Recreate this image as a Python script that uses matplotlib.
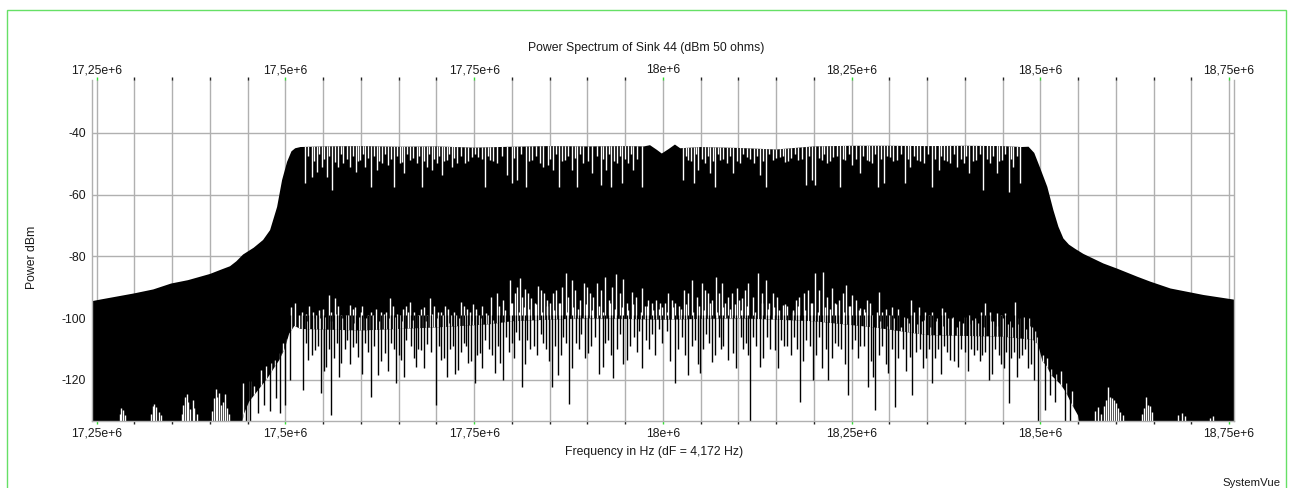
import numpy as np
import matplotlib
matplotlib.use('Agg')
import matplotlib.pyplot as plt
from matplotlib.ticker import MultipleLocator, FuncFormatter
from matplotlib.patches import Rectangle

plt.rcParams['font.family'] = ['Liberation Sans', 'DejaVu Sans']
plt.rcParams['axes.unicode_minus'] = False

###===========================================================
# spectrum of sink 44, frequencies in MHz, levels in dBm

# upper edge of the spectrum
upper_mhz = [17.2438, 17.2544, 17.2994, 17.3250, 17.3485, 17.3710, 17.4000, 17.4147,
             17.4266, 17.4350, 17.4439, 17.4580, 17.4704, 17.4797, 17.4890, 17.4956,
             17.5022, 17.5080, 17.5130, 17.5200, 17.5500, 17.6000, 17.6500, 17.7000,
             17.7500, 17.8000, 17.8500, 17.9000, 17.9500, 17.9750, 17.9830, 17.9920,
             17.9986, 18.0080, 18.0160, 18.0230, 18.0500, 18.1000, 18.1500, 18.2000,
             18.2500, 18.3000, 18.3500, 18.4000, 18.4500, 18.4750, 18.4844, 18.4920,
             18.5000, 18.5093, 18.5173, 18.5240, 18.5306, 18.5380, 18.5465, 18.5571,
             18.5836, 18.6022, 18.6287, 18.6460, 18.6725, 18.7162, 18.7566]
upper_dbm = [-94.5, -94.0, -92.0, -90.7, -88.8, -87.7, -85.7, -84.3,
             -83.2, -81.6, -79.4, -77.2, -74.7, -71.5, -64.0, -55.3,
             -49.4, -46.0, -45.0, -44.6, -44.4, -44.3, -44.5, -44.4,
             -44.8, -44.5, -44.3, -44.4, -44.3, -44.4, -44.0, -45.5,
             -46.7, -45.2, -43.8, -45.0, -44.6, -44.9, -45.4, -44.4,
             -44.2, -44.2, -44.3, -44.2, -44.3, -44.6, -44.5, -46.5,
             -51.5, -57.5, -65.0, -70.4, -74.2, -76.2, -77.6, -79.2,
             -82.3, -84.0, -86.6, -88.2, -90.4, -92.5, -94.0]

# lower edge of the solid part (below the plot floor where it runs off the axis)
floor_mhz = [17.2438, 17.4380, 17.4450, 17.4520, 17.4600, 17.4680, 17.4760, 17.4840,
             17.4920, 17.4990, 17.5050, 17.5120, 17.5200, 17.6000, 17.7000, 17.7700,
             17.8000, 17.9000, 18.0000, 18.1000, 18.2000, 18.2800, 18.3500, 18.4500,
             18.4900, 18.4970, 18.5030, 18.5085, 18.5145, 18.5210, 18.5270, 18.5340,
             18.5420, 18.5500, 18.5560, 18.7566]
floor_dbm = [-140.0, -140.0, -131.0, -127.0, -124.5, -122.0, -119.5, -116.5,
             -113.5, -110.0, -105.0, -102.5, -103.5, -104.0, -103.0, -102.0,
             -101.0, -100.0, -100.5, -100.0, -101.0, -103.0, -105.5, -106.0,
             -107.0, -108.5, -114.0, -115.5, -118.5, -120.0, -121.5, -124.0,
             -128.0, -131.5, -140.0, -140.0]

# deep nulls cutting down from the top of the band
notch_mhz = [17.5260, 17.5349, 17.5415, 17.5481, 17.5548, 17.5614, 17.5701, 17.5768, 17.5856, 17.5936,
             17.5989, 17.6055, 17.6131, 17.6210, 17.6276, 17.6364, 17.6439, 17.6519, 17.6572, 17.6651,
             17.6740, 17.6806, 17.6873, 17.6939, 17.7005, 17.7071, 17.7138, 17.7204, 17.7270, 17.7380,
             17.7469, 17.7556, 17.7645, 17.7711, 17.7800, 17.7933, 17.7999, 17.8065, 17.8188, 17.8264,
             17.8374, 17.8418, 17.8480,
             17.8550, 17.8630, 17.8705, 17.8794, 17.8868, 17.8948, 17.9067, 17.9178, 17.9248, 17.9315,
             17.9390, 17.9464, 17.9544, 17.9602, 17.9721, 18.0273, 18.0339, 18.0414, 18.0471, 18.0560,
             18.0626, 18.0692, 18.0759, 18.0848, 18.0935, 18.1024, 18.1113, 18.1210, 18.1289, 18.1368,
             18.1457, 18.1554, 18.1620, 18.1696, 18.1796, 18.1898, 18.1974, 18.2018, 18.2106, 18.2173,
             18.2260, 18.2349, 18.2415, 18.2510,
             18.2614, 18.2703, 18.2769, 18.2856, 18.2923, 18.3011, 18.3100, 18.3210, 18.3277, 18.3365,
             18.3453, 18.3564, 18.3652, 18.3718, 18.3807, 18.3903, 18.3983, 18.4062, 18.4151, 18.4240,
             18.4336, 18.4425, 18.4491, 18.4579, 18.4645, 18.4734]
notch_dbm = [-56.4, -54.2, -52.6, -51.0, -54.2, -58.5, -51.0, -49.9, -51.0, -52.6,
             -48.8, -51.0, -57.5, -52.1, -49.9, -50.5, -57.5, -49.9, -53.1, -48.8,
             -49.9, -57.5, -51.0, -52.1, -49.9, -53.7, -48.8, -51.0, -49.9, -49.9,
             -47.8, -47.8, -57.5, -48.8, -49.9, -53.7, -56.4, -55.3, -57.5, -48.8,
             -49.9, -51.0, -50.5,
             -52.1, -57.5, -48.8, -52.1, -57.5, -49.9, -53.1, -56.9, -52.1, -57.5,
             -49.9, -56.4, -49.9, -52.1, -57.5, -55.3, -48.8, -56.4, -52.1, -49.9,
             -53.1, -57.5, -48.8, -49.9, -53.1, -49.9, -47.8, -49.9, -53.7, -57.5,
             -48.8, -47.8, -49.4, -48.3, -48.8, -56.9, -55.3, -56.9, -48.8, -49.9,
             -47.8, -57.5, -48.8, -50.5,
             -53.1, -48.8, -49.9, -57.5, -56.4, -47.8, -48.8, -56.4, -51.0, -48.8,
             -49.9, -57.5, -52.1, -48.8, -49.9, -51.0, -49.9, -53.1, -48.8, -58.5,
             -49.9, -53.1, -48.8, -59.1, -51.0, -56.4]

# shallow nulls between them
ripple_mhz = [17.5305, 17.5382, 17.5448, 17.5515, 17.5581, 17.5658, 17.5735, 17.5812, 17.5896, 17.5962,
              17.6022, 17.6093, 17.6170, 17.6243, 17.6320, 17.6402, 17.6479, 17.6546, 17.6612, 17.6696,
              17.6773, 17.6840, 17.6906, 17.6972, 17.7038, 17.7105, 17.7171, 17.7237, 17.7325, 17.7425,
              17.7512, 17.7600, 17.7678, 17.7755, 17.7866, 17.8032, 17.8126, 17.8226, 17.8320, 17.8510,
              17.8590, 17.8668, 17.8750, 17.8831, 17.8908, 17.9008, 17.9122, 17.9213, 17.9282, 17.9352,
              17.9427, 17.9504, 17.9573, 17.9660, 18.0306, 18.0376, 18.0442, 18.0515, 18.0593, 18.0659,
              18.0725, 18.0803, 18.0891, 18.0980, 18.1068, 18.1160, 18.1250, 18.1328, 18.1412, 18.1505,
              18.1587, 18.1658, 18.1746, 18.1847, 18.1936, 18.2062, 18.2140, 18.2216, 18.2305, 18.2382,
              18.2462, 18.2562, 18.2658, 18.2736, 18.2812, 18.2890, 18.2967, 18.3055, 18.3155, 18.3243,
              18.3321, 18.3409, 18.3508, 18.3608, 18.3685, 18.3762, 18.3855, 18.3943, 18.4022, 18.4106,
              18.4195, 18.4288, 18.4380, 18.4458, 18.4535, 18.4612, 18.4690]
ripple_dbm = [-47.5, -49.0, -47.0, -48.5, -47.5, -49.5, -47.0, -48.5, -47.5, -49.0,
              -47.0, -48.0, -47.5, -49.0, -47.0, -48.5, -47.5, -49.5, -47.0, -48.0,
              -47.5, -49.0, -47.0, -48.5, -47.5, -49.0, -47.0, -48.0, -47.5, -49.0,
              -47.0, -48.5, -47.5, -49.0, -47.5, -48.0, -47.0, -49.0, -47.5, -48.5,
              -47.0, -49.0, -47.5, -48.0, -47.0, -49.0, -47.5, -48.5, -47.0, -49.0,
              -47.5, -48.5, -47.0, -48.5, -47.5, -49.0, -47.0, -48.5, -47.5, -49.0,
              -47.0, -48.5, -47.5, -49.0, -47.0, -48.5, -47.5, -49.0, -47.0, -48.0,
              -47.5, -49.0, -47.0, -48.5, -47.5, -48.0, -47.0, -49.0, -47.5, -48.5,
              -47.0, -48.5, -47.5, -49.0, -47.0, -48.5, -47.5, -49.0, -47.0, -48.5,
              -47.5, -49.0, -47.0, -48.5, -47.5, -49.0, -47.0, -48.5, -47.5, -49.0,
              -47.0, -48.5, -47.5, -49.0, -47.0, -48.5, -47.5]

# nulls reaching up from below into the band (tip level)
gap_mhz = [17.2810, 17.2828, 17.2850, 17.2870,
           17.3225, 17.3245, 17.3265, 17.3290, 17.3320, 17.3350,
           17.3625, 17.3650, 17.3670, 17.3690, 17.3715, 17.3740, 17.3770, 17.3795, 17.3825,
           17.4030, 17.4055, 17.4075, 17.4095, 17.4120, 17.4145, 17.4175, 17.4200, 17.4225, 17.4255,
           17.4440, 17.4527, 17.4580, 17.4680, 17.4747, 17.4806, 17.4859, 17.4925, 17.4969, 17.5022,
           17.5071, 17.5124, 17.5180, 17.5270, 17.5360, 17.5445, 17.5578, 17.5654, 17.5740, 17.5852,
           17.5919, 17.5980, 17.6051, 17.6140, 17.6271, 17.6390, 17.6480, 17.6560, 17.6647, 17.6750,
           17.6840, 17.6920, 17.7020, 17.7110, 17.7200, 17.7323, 17.7400, 17.7480, 17.7570, 17.7662,
           17.7720, 17.7976, 17.8040, 17.8108, 17.8180, 17.8260, 17.8340, 17.8420, 17.8500, 17.8580,
           17.8718, 17.8794, 17.8957, 17.9040, 17.9125, 17.9235, 17.9381, 17.9470, 17.9589, 17.9722,
           17.9800, 17.9907, 17.9986, 18.0074, 18.0160, 18.0282, 18.0392, 18.0516, 18.0600, 18.0706,
           18.0781, 18.0860, 18.0980, 18.1050, 18.1134, 18.1258, 18.1368, 18.1460, 18.1590, 18.1730,
           18.1810, 18.1929, 18.2018, 18.2128, 18.2239, 18.2330, 18.2428, 18.2510, 18.2614, 18.2700,
           18.2835, 18.2857, 18.2950, 18.3034, 18.3188, 18.3286, 18.3387, 18.3475, 18.3564, 18.3697,
           18.3780, 18.3850, 18.4005, 18.4094, 18.4180, 18.4270, 18.4337, 18.4425, 18.4535, 18.4600,
           18.4667, 18.4778, 18.4844, 18.4955, 18.5030, 18.5085, 18.5145, 18.5210, 18.5270, 18.5340,
           18.5420, 18.5720, 18.5770, 18.5800, 18.5840, 18.5870, 18.5895, 18.5920, 18.5950, 18.5975,
           18.6000, 18.6030, 18.6060, 18.6090, 18.6350, 18.6380, 18.6405, 18.6425, 18.6450, 18.6480,
           18.6828, 18.6881, 18.6920, 18.7252, 18.7292,
           17.5220, 17.5310, 17.5400, 17.5500, 17.5610, 17.5700, 17.5800, 17.5890, 17.6010, 17.6090,
           17.6200, 17.6330, 17.6430, 17.6520, 17.6600, 17.6700, 17.6790, 17.6880, 17.6970, 17.7060,
           17.7160, 17.7260, 17.7360, 17.7440, 17.7530, 17.7610, 17.7800, 17.7880, 17.8000, 17.8070,
           17.8140, 17.8220, 17.8300, 17.8380, 17.8460, 17.8540, 17.8620, 17.8670, 17.8750, 17.8840,
           17.8900, 17.9000, 17.9080, 17.9180, 17.9290, 17.9330, 17.9430, 17.9520, 17.9650, 17.9760,
           17.9850, 17.9950, 18.0030, 18.0120, 18.0220, 18.0330, 18.0450, 18.0560, 18.0650, 18.0740,
           18.0820, 18.0920, 18.1010, 18.1090, 18.1190, 18.1310, 18.1410, 18.1510, 18.1650, 18.1770,
           18.1870, 18.1980, 18.2070, 18.2180, 18.2280, 18.2380, 18.2470, 18.2560, 18.2660, 18.2750,
           18.2900, 18.2990, 18.3110, 18.3240, 18.3330, 18.3430, 18.3520, 18.3630, 18.3740, 18.3920,
           18.4050, 18.4140, 18.4220, 18.4380, 18.4480, 18.4570, 18.4720, 18.4890]
gap_dbm = [-131.0, -129.2, -129.8, -131.5,
           -131.0, -128.5, -127.9, -128.8, -130.5, -131.5,
           -131.0, -128.0, -125.5, -124.7, -127.0, -129.5, -126.5, -129.0, -131.0,
           -130.0, -126.0, -122.8, -125.5, -124.3, -128.0, -127.0, -124.5, -129.0, -131.0,
           -121.0, -120.5, -122.0, -116.8, -115.5, -114.6, -113.6, -111.4, -108.2, -106.6,
           -96.5, -95.2, -99.0, -98.5, -100.0, -97.5, -92.5, -93.6, -99.0, -95.8,
           -96.3, -99.5, -100.0, -98.0, -97.9, -93.6, -98.5, -97.0, -94.7, -99.0,
           -96.5, -93.6, -98.0, -96.0, -99.0, -94.7, -97.0, -95.5, -99.0, -98.4,
           -93.0, -87.7, -92.0, -87.1, -90.5, -93.5, -89.5, -92.0, -95.0, -91.0,
           -85.5, -87.7, -88.7, -92.0, -88.7, -86.6, -85.7, -87.4, -91.5, -90.4,
           -94.0, -94.1, -96.3, -92.0, -95.0, -90.9, -87.7, -88.7, -92.0, -86.6,
           -88.7, -93.0, -90.4, -93.5, -88.7, -85.5, -87.7, -92.0, -95.8, -97.4,
           -93.0, -90.9, -85.3, -85.0, -90.4, -94.0, -89.3, -92.5, -96.8, -94.0,
           -98.0, -91.5, -97.0, -96.3, -99.5, -94.1, -96.3, -97.9, -97.9, -96.8,
           -100.0, -99.5, -99.5, -100.6, -101.5, -95.2, -97.9, -98.4, -98.4, -101.0,
           -94.7, -99.5, -100.1, -106.0, -112.0, -113.0, -116.5, -118.0, -117.0, -121.0,
           -123.5, -130.0, -128.7, -131.0, -128.5, -126.5, -122.2, -125.5, -126.0, -126.5,
           -127.5, -129.0, -130.5, -131.5, -131.0, -129.0, -125.4, -128.0, -128.5, -130.5,
           -131.5, -130.7, -131.8, -132.3, -131.7,
           -98.0, -96.0, -99.0, -97.0, -98.0, -96.0, -99.0, -97.0, -96.0, -99.0,
           -97.0, -98.0, -96.0, -99.0, -96.0, -98.0, -97.0, -99.0, -96.0, -98.0,
           -97.0, -99.0, -96.0, -98.0, -97.0, -96.0, -92.0, -94.0, -95.0, -90.0,
           -93.0, -92.0, -95.0, -91.0, -94.0, -92.0, -95.0, -90.0, -93.0, -91.0,
           -94.0, -90.0, -93.0, -91.0, -94.0, -90.0, -92.0, -95.0, -93.0, -96.0,
           -95.0, -97.0, -95.0, -94.0, -96.0, -92.0, -93.0, -91.0, -94.0, -92.0,
           -95.0, -92.0, -94.0, -91.0, -93.0, -92.0, -95.0, -93.0, -96.0, -94.0,
           -92.0, -95.0, -91.0, -93.0, -95.0, -92.0, -96.0, -94.0, -97.0, -95.0,
           -98.0, -99.0, -97.0, -100.0, -98.0, -101.0, -99.0, -100.0, -98.0, -101.0,
           -99.0, -100.0, -98.0, -101.0, -99.0, -102.0, -100.0, -103.0]

# short nulls just above the lower edge
nick_mhz = [17.5215, 17.5290, 17.5372, 17.5458, 17.5525, 17.5598, 17.5672, 17.5752, 17.5835, 17.5908,
            17.5995, 17.6068, 17.6160, 17.6236, 17.6300, 17.6375, 17.6455, 17.6545, 17.6620, 17.6685,
            17.6768, 17.6856, 17.6942, 17.7005, 17.7085, 17.7165, 17.7235, 17.7305, 17.7376, 17.7455,
            17.7520, 17.7590, 17.7680, 17.7755,
            17.7832, 17.7905, 17.7985, 17.8090, 17.8155, 17.8230, 17.8315, 17.8395, 17.8470, 17.8560,
            17.8640, 17.8735, 17.8810, 17.8875, 17.8985, 17.9065, 17.9155, 17.9205, 17.9300, 17.9360,
            17.9455, 17.9540, 17.9605, 17.9705, 17.9785, 17.9870, 17.9965, 18.0060, 18.0140, 18.0235,
            18.0310, 18.0405, 18.0480, 18.0545, 18.0625, 18.0720, 18.0795, 18.0890, 18.0955, 18.1040,
            18.1115, 18.1220, 18.1310, 18.1395, 18.1470, 18.1540, 18.1620, 18.1720, 18.1795, 18.1880,
            18.1965, 18.2050, 18.2145, 18.2210, 18.2300, 18.2395, 18.2480, 18.2595, 18.2680, 18.2775,
            18.2880, 18.2970, 18.3060, 18.3150, 18.3260, 18.3370, 18.3460, 18.3540, 18.3620, 18.3710,
            18.3830, 18.3900, 18.3980, 18.4060, 18.4130, 18.4250, 18.4350, 18.4420, 18.4510, 18.4630,
            18.4700, 18.4810, 18.4860, 18.4930]
nick_dbm = [-99.0, -101.0, -98.0, -100.0, -99.5, -101.0, -98.5, -100.0, -99.0, -101.5,
            -98.0, -100.0, -99.0, -101.0, -98.5, -100.0, -99.5, -101.0, -98.0, -100.5,
            -99.0, -101.0, -98.5, -100.0, -99.0, -101.5, -98.0, -100.0, -99.0, -101.0,
            -98.5, -100.0, -99.0, -100.5,
            -96.0, -97.5, -95.0, -98.0, -96.5, -97.0, -95.5, -98.0, -96.0, -97.5,
            -95.0, -98.0, -96.5, -97.0, -95.5, -97.5, -96.0, -98.0, -95.0, -97.0,
            -96.5, -97.5, -95.5, -98.0, -96.0, -97.5, -95.0, -98.0, -96.5, -97.0,
            -95.5, -98.0, -96.0, -97.5, -95.0, -98.0, -96.5, -97.0, -95.5, -97.5,
            -96.0, -98.0, -95.0, -97.0, -96.5, -97.5, -95.5, -98.0, -96.0, -97.5,
            -95.0, -98.0, -96.5, -97.0, -95.5, -98.0, -96.0, -97.5, -98.0, -99.0,
            -101.0, -102.5, -100.0, -103.0, -101.5, -102.0, -100.5, -103.0, -101.0, -102.5,
            -100.0, -103.0, -101.5, -102.0, -100.5, -103.0, -101.0, -102.5, -100.0, -103.0,
            -102.0, -103.5, -102.5, -104.0]

# spurs dropping below the band (bottom level)
spur_mhz = [17.4480, 17.4530, 17.4640, 17.4720, 17.4800, 17.4870, 17.4930, 17.5000, 17.5060,
            17.5234, 17.5300, 17.5389, 17.5476, 17.5542, 17.5609, 17.5680, 17.5741, 17.5820, 17.5896,
            17.5962, 17.6050, 17.6131, 17.6227, 17.6316, 17.6400, 17.6470, 17.6536, 17.6600, 17.6735,
            17.6801, 17.6880, 17.6992, 17.7066, 17.7142, 17.7220, 17.7287, 17.7360, 17.7420, 17.7509,
            17.7575, 17.7640, 17.7777, 17.7843, 17.7920, 17.8000, 17.8060, 17.8131, 17.8200, 17.8290,
            17.8380, 17.8450, 17.8529, 17.8616, 17.8680, 17.8758, 17.8850, 17.8920, 17.9014, 17.9100,
            17.9213, 17.9280, 17.9345, 17.9430, 17.9523, 17.9620, 17.9690, 17.9774, 17.9850, 17.9950,
            18.0050, 18.0163, 18.0250, 18.0339, 18.0420, 18.0494, 18.0570, 18.0649, 18.0740, 18.0800,
            18.0869, 18.0935, 18.1030, 18.1100, 18.1157, 18.1200, 18.1289, 18.1380, 18.1488, 18.1560,
            18.1650, 18.1740, 18.1819, 18.1900, 18.1995, 18.2070, 18.2194, 18.2280, 18.2360, 18.2459,
            18.2540, 18.2610, 18.2724, 18.2790, 18.2813, 18.2900, 18.2989, 18.3078, 18.3180, 18.3276,
            18.3299, 18.3400, 18.3480, 18.3564, 18.3650, 18.3730, 18.3806, 18.3916, 18.4000, 18.4080,
            18.4160, 18.4230, 18.4314, 18.4400, 18.4513, 18.4579, 18.4650, 18.4720, 18.4800, 18.4880,
            18.4970, 18.5064, 18.5130, 18.5200, 18.5330, 18.5400,
            17.5270, 17.5350, 17.5430, 17.5510, 17.5580, 17.5650, 17.5710, 17.5790, 17.5860, 17.5930,
            17.6010, 17.6090, 17.6180, 17.6270, 17.6360, 17.6440, 17.6500, 17.6570, 17.6660, 17.6700,
            17.6760, 17.6840, 17.6930, 17.7030, 17.7100, 17.7180, 17.7250, 17.7320, 17.7390, 17.7460,
            17.7540, 17.7610, 17.7700, 17.7740, 17.7810, 17.7880, 17.7960, 17.8030, 17.8100, 17.8170,
            17.8240, 17.8330, 17.8410, 17.8490, 17.8570, 17.8650, 17.8720, 17.8800, 17.8890, 17.8970,
            17.9050, 17.9150, 17.9240, 17.9310, 17.9390, 17.9470, 17.9560, 17.9660, 17.9730, 17.9810,
            17.9900, 17.9990, 18.0100, 18.0200, 18.0290, 18.0380, 18.0460, 18.0530, 18.0610, 18.0690,
            18.0770, 18.0970, 18.1060, 18.1130, 18.1240, 18.1330, 18.1420, 18.1520, 18.1600, 18.1700,
            18.1780, 18.1860, 18.1950, 18.2030, 18.2110, 18.2160, 18.2240, 18.2320, 18.2410, 18.2500,
            18.2580, 18.2660, 18.2760, 18.2860, 18.2950, 18.3030, 18.3120, 18.3220, 18.3350, 18.3440,
            18.3520, 18.3600, 18.3690, 18.3770, 18.3860, 18.3950, 18.4040, 18.4120, 18.4200, 18.4270,
            18.4360, 18.4450, 18.4480, 18.4540, 18.4610, 18.4690, 18.4760, 18.4840, 18.4920]
spur_dbm = [-134.0, -134.0, -130.7, -128.0, -130.0, -126.0, -130.7, -128.0, -120.0,
            -123.3, -113.6, -110.3, -124.3, -115.7, -131.4, -108.0, -114.6, -107.0, -109.3,
            -112.5, -108.0, -125.4, -118.4, -111.4, -108.0, -121.1, -113.6, -107.0, -115.7,
            -110.3, -108.5, -128.1, -113.6, -119.0, -109.0, -116.8, -108.0, -114.6, -121.1,
            -111.4, -107.0, -117.9, -114.6, -106.0, -108.0, -104.5, -122.2, -107.0, -109.0,
            -105.0, -110.0, -122.2, -118.4, -106.0, -127.8, -108.0, -105.0, -111.4, -106.0,
            -115.7, -107.0, -119.5, -105.0, -113.6, -106.0, -104.0, -107.1, -105.0, -103.5,
            -104.0, -121.1, -106.0, -118.4, -107.0, -117.9, -105.0, -114.1, -106.0, -109.0,
            -113.6, -111.4, -106.0, -108.0, -134.0, -106.0, -115.7, -106.0, -110.3, -107.0,
            -109.0, -106.0, -127.1, -107.0, -120.0, -106.0, -120.0, -108.0, -110.0, -124.9,
            -107.0, -109.0, -122.2, -119.0, -129.7, -109.0, -117.9, -128.7, -110.0, -112.5,
            -124.9, -110.0, -113.0, -121.1, -110.0, -109.0, -113.6, -115.7, -111.0, -110.0,
            -110.3, -112.0, -120.0, -110.0, -116.2, -127.5, -111.0, -113.0, -110.0, -115.0,
            -134.0, -129.7, -125.0, -127.0, -134.0, -134.0,
            -108.0, -112.0, -109.0, -117.0, -110.0, -113.0, -119.0, -110.0, -115.0, -108.0,
            -118.0, -111.0, -109.0, -114.0, -117.0, -110.0, -112.0, -119.0, -109.0, -113.0,
            -110.0, -116.0, -111.0, -109.0, -113.0, -110.0, -118.0, -111.0, -109.0, -114.0,
            -112.0, -116.0, -110.0, -112.0, -109.0, -120.0, -111.0, -113.0, -107.0, -115.0,
            -110.0, -112.0, -108.0, -114.0, -109.0, -112.0, -108.0, -116.0, -110.0, -113.0,
            -109.0, -118.0, -108.0, -112.0, -110.0, -115.0, -109.0, -111.0, -116.0, -110.0,
            -112.0, -108.0, -114.0, -110.0, -112.0, -109.0, -115.0, -110.0, -108.0, -112.0,
            -110.0, -116.0, -110.0, -112.0, -109.0, -113.0, -110.0, -116.0, -109.0, -112.0,
            -110.0, -114.0, -109.0, -112.0, -116.0, -110.0, -113.0, -109.0, -115.0, -110.0,
            -113.0, -109.0, -114.0, -112.0, -115.0, -110.0, -113.0, -117.0, -111.0, -116.0,
            -110.0, -113.0, -118.0, -111.0, -114.0, -110.0, -117.0, -112.0, -114.0, -111.0,
            -118.0, -112.0, -115.0, -111.0, -113.0, -119.0, -112.0, -116.0, -120.0]

x_ticks_mhz = [17.25, 17.5, 17.75, 18.0, 18.25, 18.5, 18.75]
y_ticks = [-120, -100, -80, -60, -40]

###===========================================================
def hz(v):
    return np.asarray(v) * 1e6

def freq_label(v, pos):
    return ('%ge+6' % (v / 1e6)).replace('.', ',')

W, H = 1290, 488
fig = plt.figure(figsize=(W / 100, H / 100), dpi=100)
fig.patch.set_facecolor('white')

# plot area in pixels: x 91.7..1234, y 80..420.7
ax = fig.add_axes([91.7 / W, 1 - 420.7 / H, (1234 - 91.7) / W, (420.7 - 80) / H])
ax.set_xlim(17.2434e6, 18.7566e6)
ax.set_ylim(-133.2, -22.9)

grid_col = '#b0b0b0'
ax.set_axisbelow(True)
ax.xaxis.set_minor_locator(MultipleLocator(0.05e6))
ax.set_xticks(hz(x_ticks_mhz))
ax.xaxis.set_major_formatter(FuncFormatter(freq_label))
ax.set_yticks(y_ticks)
ax.grid(True, which='both', axis='x', color=grid_col, lw=1.0)
ax.grid(True, which='major', axis='y', color=grid_col, lw=1.0)

ax.tick_params(axis='x', which='major', top=True, bottom=True, labeltop=True,
               labelbottom=True, direction='out', length=2.5, width=1.0,
               color='#33dd33', labelsize=8.8, labelcolor='#1a1a1a', pad=2.4)
ax.tick_params(axis='x', which='minor', top=True, bottom=True, direction='out',
               length=2.5, width=1.0, color='#222222')
ax.tick_params(axis='y', length=0, pad=4, labelsize=8.8, labelcolor='#1a1a1a')
for t in ax.xaxis.get_major_ticks():
    t.label2.set_verticalalignment('baseline')

for side in ['left', 'right', 'bottom']:
    ax.spines[side].set_color(grid_col)
    ax.spines[side].set_linewidth(1.0)
    ax.spines[side].set_zorder(5)
ax.spines['top'].set_visible(False)

# solid body of the spectrum
band = ax.fill(np.r_[hz(upper_mhz), hz(floor_mhz)[::-1]],
               np.r_[upper_dbm, floor_dbm[::-1]],
               color='black', lw=0, zorder=2)[0]

# nulls, clipped to the body
lw_line = 1.0
for f, lvl in [(notch_mhz, notch_dbm), (ripple_mhz, ripple_dbm)]:
    nulls = ax.vlines(hz(f), lvl, -43.0, colors='white', lw=lw_line, zorder=3)
    nulls.set_clip_path(band)
for f, lvl in [(gap_mhz, gap_dbm), (nick_mhz, nick_dbm)]:
    nulls = ax.vlines(hz(f), -140.0, lvl, colors='white', lw=lw_line, zorder=3)
    nulls.set_clip_path(band)

# spurs below the body
ax.vlines(hz(spur_mhz), spur_dbm, -99.0, colors='black', lw=lw_line, zorder=4)

# labels
txt = dict(color='#1a1a1a', fontsize=8.8)
fig.text(646 / W, 1 - 48 / H, 'Power Spectrum of Sink 44 (dBm 50 ohms)', ha='center', va='center', **txt)
fig.text(654 / W, 1 - 452 / H, 'Frequency in Hz (dF = 4,172 Hz)', ha='center', va='center', **txt)
fig.text(32 / W, 1 - 257 / H, 'Power dBm', ha='center', va='center', rotation=90, **txt)
fig.text(1281 / W, 1 - 483 / H, 'SystemVue', ha='right', va='center', color='#1a1a1a', fontsize=8.2)

# window frame
fig.patches.append(Rectangle((6.5 / W, -0.05), (1286 - 6.5) / W, 1.05 - 10.0 / H,
                             transform=fig.transFigure, fill=False,
                             edgecolor='#66e066', lw=1.0))

fig.savefig('out.png', dpi=100)
